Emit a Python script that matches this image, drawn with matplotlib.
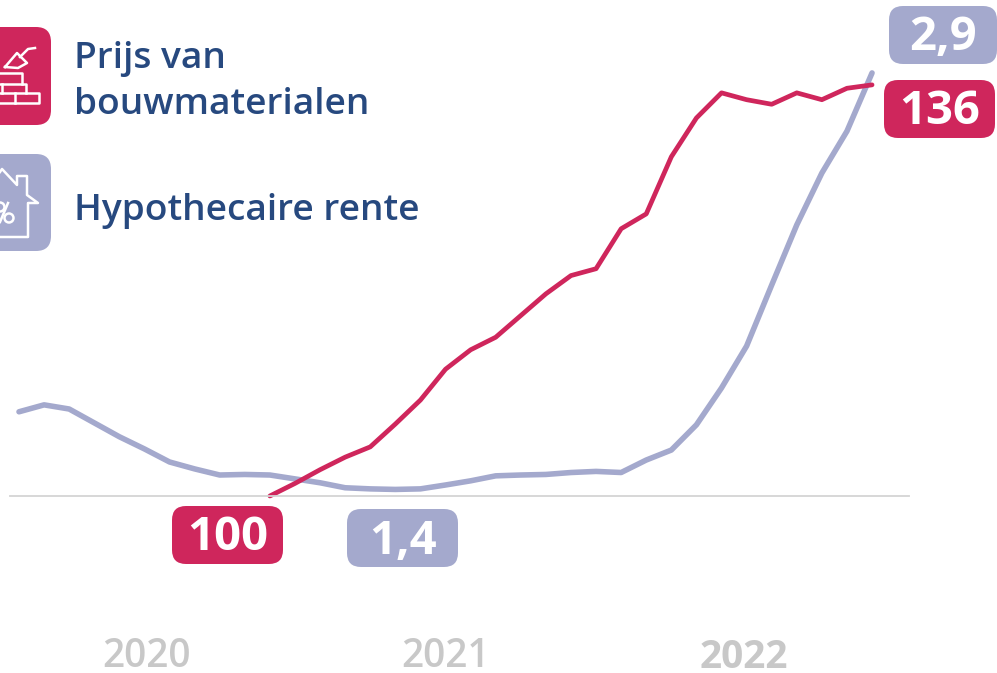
#!/usr/bin/env python3
import matplotlib
matplotlib.use("Agg")
import matplotlib.pyplot as plt
from matplotlib.patches import FancyBboxPatch, Circle

rente = [1.678, 1.703, 1.688, 1.638, 1.588, 1.544, 1.497, 1.472, 1.450, 1.452, 1.450, 1.436,
         1.422, 1.404, 1.400, 1.398, 1.400, 1.414, 1.429, 1.447, 1.450, 1.452, 1.459, 1.463,
         1.459, 1.504, 1.540, 1.631, 1.764, 1.915, 2.135, 2.352, 2.539, 2.690, 2.900]
prijs = [100, 101.1, 102.3, 103.4, 104.3, 106.3, 108.4, 111.1, 112.8, 113.9, 115.8, 117.7,
         119.3, 119.9, 123.4, 124.7, 129.7, 133.1, 135.3, 134.7, 134.3, 135.3, 134.7, 135.7, 136.0]
prijs_start = 10
jaren = ["2020", "2021", "2022"]
jaar_pos = [5.1, 17.0, 28.9]

ROOD = "#cf265c"
BLAUW = "#a4a9cd"
TEKST = "#27497f"
GRIJS = "#c8c8c8"
FONT = "Open Sans"

fig = plt.figure(figsize=(9.97, 6.73), dpi=100)

# rente axes
ax = fig.add_axes([0, 0, 1, 1])
ax.set_xlim(-0.757, 38.98)
ax.set_ylim(0.736, 3.163)
ax.axis("off")
# prijs axes, same x
ax2 = ax.twinx()
ax2.set_ylim(84.5, 143.43)
ax2.axis("off")
# overlay in pixels for boxes and icons
px = fig.add_axes([0, 0, 1, 1])
px.set_xlim(0, 997)
px.set_ylim(673, 0)
px.axis("off")
px.patch.set_alpha(0)

px.plot([10, 909], [495.5, 495.5], color="#d4d4d4", lw=1.3, zorder=1)
ax.plot(range(len(rente)), rente, color=BLAUW, lw=4, solid_capstyle="round", solid_joinstyle="round")
ax2.plot(range(prijs_start, prijs_start + len(prijs)), prijs, color=ROOD, lw=3.4,
         solid_capstyle="round", solid_joinstyle="round")

for jaar, pos in zip(jaren, jaar_pos):
    ax.text(pos, 0.736 + (673 - 657) / 277.3, jaar, color=GRIJS, fontsize=28, ha="center", va="center",
            family=FONT, fontweight="bold" if jaar == "2022" else "semibold")


def label(x0, y0, x1, y1, tekst, kleur):
    px.add_patch(FancyBboxPatch((x0 + 14, y0 + 14), x1 - x0 - 28, y1 - y0 - 28,
                                boxstyle="round,pad=14,rounding_size=14", fc=kleur, ec="none", zorder=3))
    px.text((x0 + x1) / 2, (y0 + y1) / 2 + 3, tekst, color="white", fontsize=34, fontweight="bold",
            family=FONT, ha="center", va="center", zorder=4)


label(889, 6, 997, 64, "2,9", BLAUW)
label(884, 80, 995, 138, "136", ROOD)
label(172, 506, 283, 564, "100", ROOD)
label(347, 509, 458, 567, "1,4", BLAUW)

# legend tiles
for y0, y1, kleur in [(27, 125, ROOD), (154, 251, BLAUW)]:
    px.add_patch(FancyBboxPatch((-30, y0 + 15), 66, y1 - y0 - 30,
                                boxstyle="round,pad=15,rounding_size=15", fc=kleur, ec="none", zorder=3))

px.text(74, 59, "Prijs van", color=TEKST, fontsize=26.7, fontweight="semibold", family=FONT, va="center", zorder=4)
px.text(74, 105, "bouwmaterialen", color=TEKST, fontsize=26.7, fontweight="semibold", family=FONT, va="center", zorder=4)
px.text(74, 211, "Hypothecaire rente", color=TEKST, fontsize=26.7, fontweight="semibold", family=FONT, va="center", zorder=4)

# brick icon
icon = dict(color="white", lw=1.8, zorder=5, solid_joinstyle="round")
px.plot([0, 39, 39, 0], [93, 93, 103, 103], **icon)
px.plot([15, 15], [93, 103], **icon)
px.plot([0, 26, 26], [84, 84, 93], **icon)
px.plot([2, 2], [84, 93], **icon)
px.plot([0, 22, 22], [73, 73, 84], **icon)
px.plot([5, 17, 27, 18, 5], [67, 53, 63, 68, 67], **icon)
px.plot([20, 28, 35], [57, 49, 48], **icon)

# house icon
px.plot([0, 2, 17, 17, 27, 27, 38, 28, 28, 0], [172, 169, 185, 176, 176, 195, 203, 203, 237, 237], **icon)
px.plot([0, 8], [222, 203], **icon)
px.add_patch(Circle((9, 218), 4.5, fc="none", ec="white", lw=1.8, zorder=5))
px.add_patch(Circle((0, 207), 4.5, fc="none", ec="white", lw=1.8, zorder=5))

fig.savefig("out.png", dpi=100)
